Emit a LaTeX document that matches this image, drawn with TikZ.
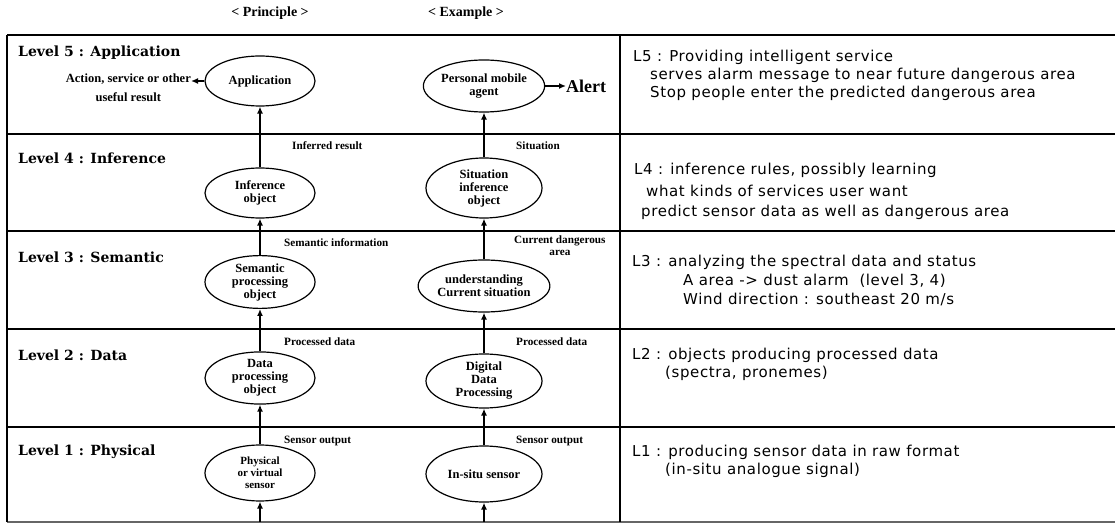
\documentclass[tikz,border=0pt]{standalone}
\usepackage{fontspec}
\setmainfont{Liberation Serif}
\newfontfamily\levelfont{DejaVu Serif}
\newfontfamily\notefont[LetterSpace=4]{DejaVu Sans}
\usetikzlibrary{arrows.meta,shapes.geometric}
\begin{document}
\begin{tikzpicture}[x=1bp,y=-1bp,
  obj/.style={ellipse,draw,line width=1.2bp,inner sep=0pt,align=center,
    font=\bfseries\fontsize{12.5bp}{13bp}\selectfont},
  arr/.style={line width=1.6bp,-{Latex[length=7bp,width=6bp]}},
  rule/.style={line width=1.8bp},
  levellbl/.style={anchor=west,inner sep=0pt,font=\levelfont\bfseries\fontsize{14bp}{15bp}\selectfont},
  tag/.style={anchor=west,inner sep=0pt,font=\bfseries\fontsize{11.2bp}{12bp}\selectfont},
  head/.style={inner sep=0pt,font=\bfseries\fontsize{14bp}{15bp}\selectfont},
  note/.style={anchor=west,inner sep=0pt,font=\notefont\fontsize{15bp}{17bp}\selectfont}]
\useasboundingbox (0,0) rectangle (1115,525);

% column headings
\node[head] (hp) at (270,13) {< Principle >};
\node[head] (he) at (466,13) {< Example >};

% table frame
\draw[line width=1.4bp] (7,35) -- (1115,35);
\foreach \y in {134,231,329,427} \draw[rule] (7,\y) -- (1115,\y);
\draw[line width=1.2bp,black!60] (7,522) -- (1115,522);
\draw[line width=2.2bp] (7,35) -- (7,522);
\draw[line width=2bp] (620,35) -- (620,522);

% level names
\node[levellbl] (l5) at (18,53) {Level 5 : Application};
\node[levellbl] (l4) at (18,158) {Level 4 : Inference};
\node[levellbl] (l3) at (18,257) {Level 3 : Semantic};
\node[levellbl] (l2) at (18,355) {Level 2 : Data};
\node[levellbl] (l1) at (18,452) {Level 1 : Physical};

% principle column
\node[obj,minimum width=110bp,minimum height=50bp] (app) at (260,81) {Application};
\node[obj,minimum width=110bp,minimum height=50bp] (inf) at (260,193) {Inference\\object};
\node[obj,minimum width=110bp,minimum height=52bp] (sem) at (260,282) {Semantic\\processing\\object};
\node[obj,minimum width=110bp,minimum height=52bp] (dpo) at (260,378) {Data\\processing\\object};
\node[obj,minimum width=110bp,minimum height=56bp,font=\bfseries\fontsize{11bp}{12bp}\selectfont] (phy) at (260,473) {Physical\\or virtual\\sensor};

% example column
\node[obj,minimum width=118bp,minimum height=52bp] (pma) at (484,86) {Personal mobile\\agent};
\node[obj,minimum width=116bp,minimum height=60bp] (sit) at (484,188) {Situation\\inference\\object};
\node[obj,minimum width=116bp,minimum height=52bp] (und) at (484,286) {understanding\\Current situation};
\node[obj,minimum width=116bp,minimum height=54bp] (ddp) at (484,381) {Digital\\Data\\Processing};
\node[obj,minimum width=116bp,minimum height=56bp] (ins) at (484,474) {In-situ sensor};

% outputs of level 5
\node[anchor=east,inner sep=0pt,align=center,font=\bfseries\fontsize{12.5bp}{19bp}\selectfont] (act) at (191,88) {Action, service or other\\useful result};
\node[anchor=west,inner sep=0pt,font=\bfseries\fontsize{18bp}{19bp}\selectfont] (alert) at (566,86) {Alert};
\draw[arr] (app.west) -- (app.west -| act.east);
\draw[arr] (pma.east) -- (alert.west);

% upward flow
\coordinate (pin) at (260,522);
\coordinate (ein) at (484,522);
\draw[arr] (pin) -- (phy);
\draw[arr] (phy) -- (dpo);
\draw[arr] (dpo) -- (sem);
\draw[arr] (sem) -- (inf);
\draw[arr] (inf) -- (app);
\draw[arr] (ein) -- (ins);
\draw[arr] (ins) -- (ddp);
\draw[arr] (ddp) -- (und);
\draw[arr] (und) -- (sit);
\draw[arr] (sit) -- (pma);

% flow labels
\node[tag] (t4p) at (292,146) {Inferred result};
\node[tag] (t4e) at (516,146) {Situation};
\node[tag] (t3p) at (284,243) {Semantic information};
\node[tag,anchor=north west,align=center] (t3e) at (514,236) {Current dangerous\\area};
\node[tag] (t2p) at (284,342) {Processed data};
\node[tag] (t2e) at (516,342) {Processed data};
\node[tag] (t1p) at (284,441) {Sensor output};
\node[tag] (t1e) at (516,441) {Sensor output};

% notes
\node[note] (n5a) at (633,57) {L5 : Providing intelligent service};
\node[note] (n5b) at (650,75) {serves alarm message to near future dangerous area};
\node[note] (n5c) at (650,93) {Stop people enter the predicted dangerous area};
\node[note] (n4a) at (634,170) {L4 : inference rules, possibly learning};
\node[note] (n4b) at (646,191) {what kinds of services user want};
\node[note] (n4c) at (641,212) {predict sensor data as well as dangerous area};
\node[note] (n3a) at (632,262) {L3 : analyzing the spectral data and status};
\node[note] (n3b) at (683,281) {A area -> dust alarm\ \ (level 3, 4)};
\node[note] (n3c) at (683,299) {Wind direction : southeast 20 m/s};
\node[note] (n2a) at (632,355) {L2 : objects producing processed data};
\node[note] (n2b) at (665,373) {(spectra, pronemes)};
\node[note] (n1a) at (632,452) {L1 : producing sensor data in raw format};
\node[note] (n1b) at (665,470) {(in-situ analogue signal)};
\end{tikzpicture}
\end{document}
